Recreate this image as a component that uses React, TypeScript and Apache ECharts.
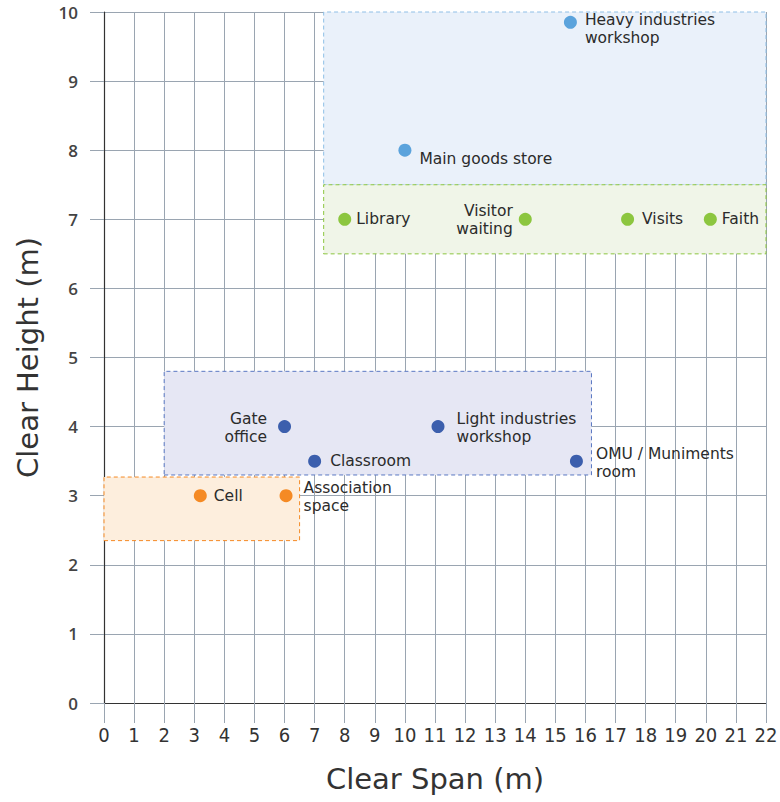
import React, { useEffect, useRef } from "react";
import * as echarts from "echarts";

const heavyPoints = [
  { name: "Heavy industries\nworkshop", value: [15.5, 9.85] },
  { name: "Main goods store", value: [10, 8] },
];
const greenPoints = [
  { name: "Library", value: [8, 7] },
  { name: "Visitor\nwaiting", value: [14, 7] },
  { name: "Visits", value: [17.4, 7] },
  { name: "Faith", value: [20.15, 7] },
];
const lightPoints = [
  { name: "Gate\noffice", value: [6, 4] },
  { name: "Light industries\nworkshop", value: [11.1, 4] },
  { name: "Classroom", value: [7, 3.5] },
  { name: "OMU / Muniments\nroom", value: [15.7, 3.5] },
];
const cellPoints = [
  { name: "Cell", value: [3.2, 3] },
  { name: "Association\nspace", value: [6.05, 3] },
];

// zone extents [xMin, yMin, xMax, yMax]
const heavyZone = [7.3, 7.5, 22, 10];
const greenZone = [7.3, 6.5, 22, 7.5];
const lightZone = [2, 3.3, 16.2, 4.8];
const cellZone = [0, 2.35, 6.5, 3.27];

const xTicks = Array.from({ length: 23 }, (_, i) => i);

const FONT = "'DejaVu Sans', 'Open Sans', sans-serif";

function zone(z: number[], fill: string, border: string) {
  return {
    silent: true,
    label: { show: false },
    itemStyle: { color: fill, borderColor: border, borderWidth: 1, borderType: [4, 3] },
    data: [[{ coord: [z[0], z[1]] }, { coord: [z[2], z[3]] }]],
  };
}

const labelRight = { show: true, position: "right", distance: 5, color: "#2b2b2b", fontSize: 15.5, fontFamily: FONT, lineHeight: 18, formatter: "{b}" };
const labelLeft = { ...labelRight, position: "left", align: "right" };

function pts(arr: any[], leftNames: string[], extra: Record<string, any> = {}) {
  return arr.map((p) => {
    const o: any = { name: p.name, value: p.value };
    if (leftNames.includes(p.name)) o.label = labelLeft;
    if (extra[p.name]) o.label = { ...(o.label || labelRight), ...extra[p.name] };
    return o;
  });
}

export default function App() {
  const ref = useRef<HTMLDivElement>(null);
  useEffect(() => {
    if (!ref.current) return;
    const chart = echarts.init(ref.current, undefined, { renderer: "svg" });
    const mk = (name: string, data: any[], color: string, z: number[], fill: string, border: string) => ({
      type: "scatter",
      name,
      data,
      symbolSize: 13,
      itemStyle: { color, opacity: 1 },
      label: labelRight,
      markArea: zone(z, fill, border),
      z: 3,
    });
    chart.setOption({
      animation: false,
      backgroundColor: "#ffffff",
      grid: { left: 104, top: 12, right: 14, bottom: 99 },
      xAxis: {
        type: "value",
        min: 0,
        max: 22,
        interval: 1,
        name: "Clear Span (m)",
        nameLocation: "middle",
        nameGap: 61,
        nameTextStyle: { fontSize: 29, color: "#333", fontFamily: FONT },
        axisLine: { show: true, onZero: false, lineStyle: { color: "#333", width: 1.2 } },
        axisTick: { show: true, length: 20, lineStyle: { color: "#9aa5b1" } },
        axisLabel: {
          margin: 27,
          fontSize: 20,
          color: "#333",
          fontFamily: "'DejaVu Sans Condensed', 'Liberation Sans Narrow', 'DejaVu Sans', sans-serif",
          fontWeight: "normal;font-stretch:condensed",
          formatter: (v: number) => (xTicks.includes(v) ? String(v) : ""),
        },
        splitLine: { show: true, lineStyle: { color: "#9aa5b1", width: 1 } },
      },
      yAxis: {
        type: "value",
        min: 0,
        max: 10,
        interval: 1,
        name: "Clear Height (m)",
        nameLocation: "middle",
        nameGap: 62,
        nameTextStyle: { fontSize: 29, color: "#333", fontFamily: FONT },
        axisLine: { show: true, onZero: false, lineStyle: { color: "#333", width: 1.2 } },
        axisTick: { show: true, length: 14, lineStyle: { color: "#9aa5b1" } },
        axisLabel: { margin: 26, fontSize: 17, color: "#444", fontWeight: 600, fontFamily: "'Open Sans', sans-serif" },
        splitLine: { show: true, lineStyle: { color: "#9aa5b1", width: 1 } },
      },
      series: [
        mk("heavy", pts(heavyPoints, [], { "Heavy industries\nworkshop": { distance: 8, offset: [0, 7] }, "Main goods store": { distance: 8, offset: [0, 9] } }), "#5ba3dc", heavyZone, "#eaf1fa", "#8fbfe6"),
        mk("green", pts(greenPoints, ["Visitor\nwaiting"], { "Visitor\nwaiting": { distance: 6, offset: [0, 1] }, "Visits": { distance: 8 } }), "#8cc63f", greenZone, "#f0f5e8", "#8cc63f"),
        mk("light", pts(lightPoints, ["Gate\noffice"], { "Gate\noffice": { distance: 11, offset: [0, 1] }, "Light industries\nworkshop": { distance: 12, offset: [0, 1] }, "Classroom": { distance: 9 }, "OMU / Muniments\nroom": { distance: 13, offset: [0, 2] } }), "#3c5fad", lightZone, "#e6e7f4", "#5a78c2"),
        mk("cell", pts(cellPoints, [], { "Cell": { distance: 7 }, "Association\nspace": { distance: 11, offset: [0, 1] } }), "#f58a24", cellZone, "#fdeedd", "#f58a24"),
      ],
    });
    return () => chart.dispose();
  }, []);
  return <div ref={ref} style={{ position: "absolute", left: 0, top: 0, width: 780, height: 802 }} />;
}
